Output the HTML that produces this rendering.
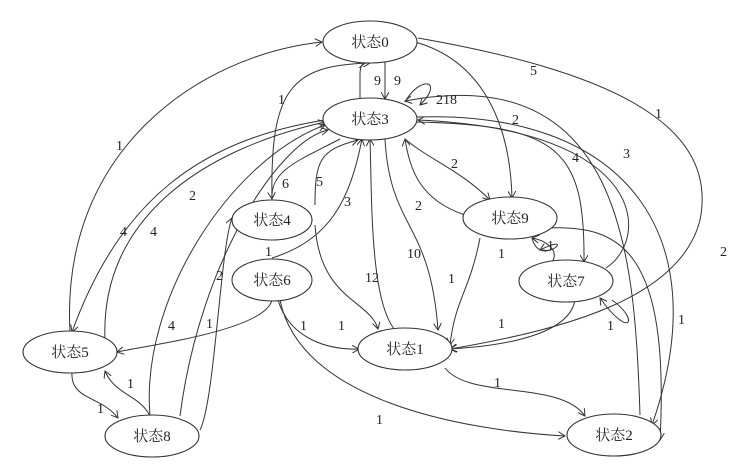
<!DOCTYPE html>
<html><head><meta charset="utf-8"><style>
body{margin:0;background:#fff}
svg{display:block}
text{font-family:"Liberation Serif","Noto Serif CJK SC",serif;font-size:14px;fill:#222}
.n{font-size:15px}
path{fill:none;stroke:#333;stroke-width:1}
ellipse{fill:#fff;stroke:#333;stroke-width:1.1}
</style></head><body>
<svg width="745" height="469" viewBox="0 0 745 469">
<defs><marker id="a" markerWidth="8" markerHeight="8" refX="7" refY="4" orient="auto"><path d="M0,0 L7,4 L0,8" style="stroke:#333;fill:none"/></marker></defs>
<g marker-end="url(#a)">
<path d="M385,62 L385,99"/>
<path d="M360,99 L360,75 Q360,64 365,63"/>
<path d="M405,102 C420,75 445,80 420,105"/>
<path d="M70,332 C60,150 200,55 322,42"/>
<path d="M415,42 C480,60 510,120 512,198"/>
<path d="M640,415 C635,250 620,60 405,101"/>
<path d="M418,38 C600,70 720,120 700,220 C680,300 560,330 450,349"/>
<path d="M272,200 C270,90 290,65 370,63"/>
<path d="M325,120 C200,140 120,200 72,332"/>
<path d="M105,340 C100,220 200,150 325,122"/>
<path d="M150,416 C140,300 230,160 325,125"/>
<path d="M200,430 C215,400 220,250 232,218"/>
<path d="M180,416 C200,260 280,140 328,130"/>
<path d="M340,139 C300,160 270,170 272,199"/>
<path d="M315,205 C315,160 320,150 358,140"/>
<path d="M272,258 C330,240 350,200 362,139"/>
<path d="M395,330 C370,300 372,200 370,139"/>
<path d="M385,139 C390,230 430,220 438,330"/>
<path d="M465,215 C420,200 410,170 405,139"/>
<path d="M405,139 C430,160 460,170 490,200"/>
<path d="M416,122 C560,125 585,150 584,262"/>
<path d="M606,268 C650,240 650,130 418,120"/>
<path d="M417,117 C620,110 720,230 652,425"/>
<path d="M532,238 C540,270 580,230 540,250"/>
<path d="M552,262 C560,250 545,240 532,238"/>
<path d="M612,300 C640,320 630,340 600,298"/>
<path d="M480,238 C470,290 455,300 450,345"/>
<path d="M575,300 C570,330 520,345 450,349"/>
<path d="M548,228 C620,225 670,250 660,440"/>
<path d="M272,300 C265,330 150,345 117,352"/>
<path d="M278,300 C290,340 330,350 359,349"/>
<path d="M315,225 C320,300 370,300 378,329"/>
<path d="M280,300 C300,400 460,430 565,436"/>
<path d="M445,368 C470,400 560,380 585,416"/>
<path d="M72,372 C70,400 100,395 118,418"/>
<path d="M150,416 C140,395 115,395 105,371"/>
</g>
<g>
<ellipse cx="370" cy="42" rx="47" ry="21"/><text class="n" x="370" y="47" text-anchor="middle">状态0</text>
<ellipse cx="370" cy="119" rx="47" ry="21"/><text class="n" x="370" y="124" text-anchor="middle">状态3</text>
<ellipse cx="272" cy="220" rx="40" ry="20"/><text class="n" x="272" y="225" text-anchor="middle">状态4</text>
<ellipse cx="272" cy="280" rx="40" ry="21"/><text class="n" x="272" y="285" text-anchor="middle">状态6</text>
<ellipse cx="510" cy="218" rx="47" ry="21"/><text class="n" x="510" y="223" text-anchor="middle">状态9</text>
<ellipse cx="566" cy="281" rx="47" ry="21"/><text class="n" x="566" y="286" text-anchor="middle">状态7</text>
<ellipse cx="70" cy="352" rx="47" ry="21"/><text class="n" x="70" y="357" text-anchor="middle">状态5</text>
<ellipse cx="405" cy="349" rx="47" ry="21"/><text class="n" x="405" y="354" text-anchor="middle">状态1</text>
<ellipse cx="152" cy="436" rx="47" ry="21"/><text class="n" x="152" y="441" text-anchor="middle">状态8</text>
<ellipse cx="614" cy="435" rx="47" ry="21"/><text class="n" x="614" y="440" text-anchor="middle">状态2</text>
</g>
<g>
<text x="374" y="85">9</text><text x="394" y="85">9</text><text x="436" y="104">218</text>
<text x="278" y="104">1</text><text x="116" y="150">1</text><text x="530" y="75">5</text>
<text x="655" y="118">1</text><text x="512" y="124">2</text><text x="572" y="162">4</text>
<text x="623" y="158">3</text><text x="720" y="256">2</text><text x="678" y="324">1</text>
<text x="282" y="188">6</text><text x="316" y="186">5</text><text x="344" y="206">3</text>
<text x="189" y="200">2</text><text x="120" y="236">4</text><text x="150" y="236">4</text>
<text x="216" y="280">2</text><text x="168" y="330">4</text><text x="206" y="328">1</text>
<text x="265" y="256">1</text><text x="451" y="168">2</text><text x="415" y="210">2</text>
<text x="407" y="258">10</text><text x="365" y="282">12</text><text x="448" y="283">1</text>
<text x="498" y="258">1</text><text x="547" y="250">1</text><text x="607" y="330">1</text>
<text x="300" y="330">1</text><text x="338" y="330">1</text><text x="498" y="328">1</text>
<text x="494" y="387">1</text><text x="376" y="424">1</text>
<text x="127" y="388">1</text><text x="97" y="413">1</text>
</g>
</svg>
</body></html>
